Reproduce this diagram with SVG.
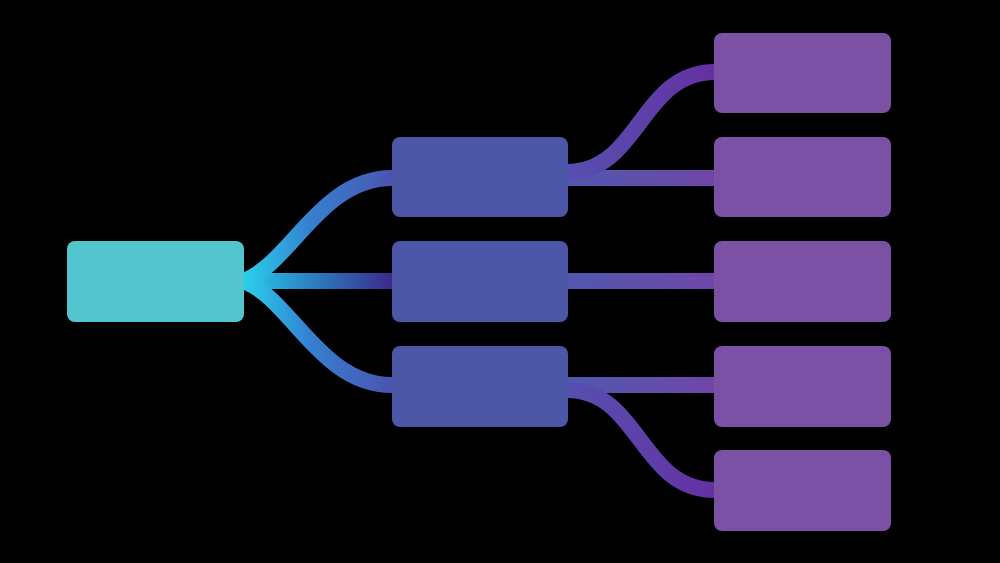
<svg xmlns="http://www.w3.org/2000/svg" width="1000" height="563" viewBox="0 0 1000 563">
  <defs>
    <linearGradient id="gCurveL" gradientUnits="userSpaceOnUse" x1="243" y1="0" x2="391" y2="0">
      <stop offset="0" stop-color="#28d2ec"/>
      <stop offset="0.45" stop-color="#3580d0"/>
      <stop offset="1" stop-color="#4a55b0"/>
    </linearGradient>
    <linearGradient id="gStraightL" gradientUnits="userSpaceOnUse" x1="243" y1="0" x2="391" y2="0">
      <stop offset="0" stop-color="#22d0ee"/>
      <stop offset="0.4" stop-color="#2b8ac8"/>
      <stop offset="1" stop-color="#3a2a8c"/>
    </linearGradient>
    <linearGradient id="gStraightR" gradientUnits="userSpaceOnUse" x1="568" y1="0" x2="715" y2="0">
      <stop offset="0" stop-color="#5058ae"/>
      <stop offset="1" stop-color="#7046a8"/>
    </linearGradient>
    <linearGradient id="gCurveR" gradientUnits="userSpaceOnUse" x1="568" y1="0" x2="715" y2="0">
      <stop offset="0" stop-color="#5650b0"/>
      <stop offset="1" stop-color="#6530a2"/>
    </linearGradient>
  </defs>
  <style>
    .conn { fill: none; stroke-width: 16; }
    .root { fill: #52c5ce; }
    .mid { fill: #4c57a8; }
    .leaf { fill: #7a51a4; }
  </style>
  <rect width="1000" height="563" fill="#000000"/>
  <g id="connectors">
    <path class="conn" stroke="url(#gStraightL)" d="M243,281 L392,281"/>
    <path class="conn" stroke="url(#gCurveL)" d="M243,281 C290,265 320,178 392,178"/>
    <path class="conn" stroke="url(#gCurveL)" d="M243,281 C290,297 320,385 392,385"/>
    <path class="conn" stroke="url(#gStraightR)" d="M567,178 L715,178"/>
    <path class="conn" stroke="url(#gStraightR)" d="M567,281 L715,281"/>
    <path class="conn" stroke="url(#gStraightR)" d="M567,385 L715,385"/>
    <path class="conn" stroke="url(#gCurveR)" d="M567,172 C640,172 640,72 715,72"/>
    <path class="conn" stroke="url(#gCurveR)" d="M567,390 C640,390 640,490 715,490"/>
  </g>
  <g id="root"><rect class="root" x="67" y="241" width="177" height="81" rx="8"/></g>
  <g id="mid1"><rect class="mid" x="392" y="137" width="176" height="80" rx="8"/></g>
  <g id="mid2"><rect class="mid" x="392" y="241" width="176" height="81" rx="8"/></g>
  <g id="mid3"><rect class="mid" x="392" y="346" width="176" height="81" rx="8"/></g>
  <g id="leaf1"><rect class="leaf" x="714" y="33" width="177" height="80" rx="8"/></g>
  <g id="leaf2"><rect class="leaf" x="714" y="137" width="177" height="80" rx="8"/></g>
  <g id="leaf3"><rect class="leaf" x="714" y="241" width="177" height="81" rx="8"/></g>
  <g id="leaf4"><rect class="leaf" x="714" y="346" width="177" height="81" rx="8"/></g>
  <g id="leaf5"><rect class="leaf" x="714" y="450" width="177" height="81" rx="8"/></g>
</svg>
